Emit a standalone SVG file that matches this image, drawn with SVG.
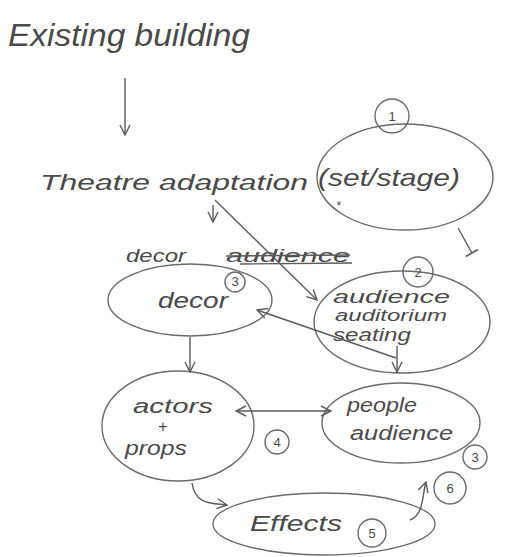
<svg xmlns="http://www.w3.org/2000/svg" width="532" height="557" viewBox="0 0 532 557">
<defs>
<style>
.n{fill:none;stroke:#6a6a6a;stroke-width:1.4}
.c{fill:none;stroke:#5a5a5a;stroke-width:1.4}
.t{font-family:"Liberation Sans","DejaVu Sans",sans-serif;fill:#4a4a4a;font-style:italic}
.num{font-family:"Liberation Sans","DejaVu Sans",sans-serif;fill:#4a4a4a;font-size:13px;text-anchor:middle}
</style>
<marker id="ah" viewBox="0 0 12 12" refX="11" refY="6" markerWidth="12" markerHeight="12" markerUnits="userSpaceOnUse" orient="auto-start-reverse">
<path d="M1,1 L11,6 L1,11" fill="none" stroke="#5a5a5a" stroke-width="1.4"/>
</marker>
<marker id="bar" viewBox="0 0 12 12" refX="6" refY="6" markerWidth="14" markerHeight="14" markerUnits="userSpaceOnUse" orient="auto">
<path d="M6,0 L6,12" fill="none" stroke="#5a5a5a" stroke-width="1.4"/>
</marker>
</defs>
<rect width="532" height="557" fill="#ffffff"/>

<g id="existing-building">
<text class="t" x="8" y="46" font-size="31" textLength="242" lengthAdjust="spacingAndGlyphs">Existing building</text>
</g>

<g id="theatre-adaptation">
<text class="t" x="40" y="190" font-size="22" textLength="268" lengthAdjust="spacingAndGlyphs">Theatre adaptation</text>
</g>

<g id="set-stage">
<ellipse class="n" cx="405" cy="177" rx="88" ry="53"/>
<text class="t" x="318" y="186" font-size="24" textLength="142" lengthAdjust="spacingAndGlyphs">(set/stage)</text>
<text class="t" x="336" y="210" font-size="12">*</text>
<circle class="n" cx="392" cy="116" r="17"/>
<text class="num" x="392" y="121">1</text>
</g>

<g id="header">
<text class="t" x="126" y="262" font-size="19" textLength="60" lengthAdjust="spacingAndGlyphs">decor</text>
<text class="t" x="226" y="262" font-size="19" textLength="124" lengthAdjust="spacingAndGlyphs">audience</text>
<path class="c" d="M226,256 L350,255 M240,264 L352,263"/>
</g>

<g id="decor">
<ellipse class="n" cx="190" cy="300" rx="82" ry="36"/>
<text class="t" x="158" y="308" font-size="22" textLength="70" lengthAdjust="spacingAndGlyphs">decor</text>
<circle class="n" cx="235" cy="282" r="10"/>
<text class="num" x="235" y="286" font-size="10">3</text>
</g>

<g id="audience">
<ellipse class="n" cx="402" cy="322" rx="88" ry="51"/>
<circle class="n" cx="418" cy="272" r="15"/>
<text class="num" x="418" y="277">2</text>
<text class="t" x="333" y="303" font-size="19" textLength="117" lengthAdjust="spacingAndGlyphs">audience</text>
<text class="t" x="335" y="321" font-size="16" textLength="112" lengthAdjust="spacingAndGlyphs">auditorium</text>
<text class="t" x="333" y="341" font-size="19" textLength="78" lengthAdjust="spacingAndGlyphs">seating</text>
</g>

<g id="actors-props">
<ellipse class="n" cx="178" cy="426" rx="76" ry="55"/>
<text class="t" x="133" y="413" font-size="20" textLength="80" lengthAdjust="spacingAndGlyphs">actors</text>
<text class="t" x="158" y="432" font-size="16">+</text>
<text class="t" x="125" y="455" font-size="20" textLength="62" lengthAdjust="spacingAndGlyphs">props</text>
<circle class="n" cx="277" cy="442" r="12"/>
<text class="num" x="277" y="447">4</text>
</g>

<g id="people-audience">
<ellipse class="n" cx="401" cy="423" rx="79" ry="40"/>
<text class="t" x="347" y="412" font-size="20" textLength="70" lengthAdjust="spacingAndGlyphs">people</text>
<text class="t" x="350" y="440" font-size="20" textLength="103" lengthAdjust="spacingAndGlyphs">audience</text>
<circle class="n" cx="475" cy="457" r="12"/>
<text class="num" x="475" y="462">3</text>
<circle class="n" cx="450" cy="488" r="16"/>
<text class="num" x="450" y="493">6</text>
</g>

<g id="effects">
<ellipse class="n" cx="324" cy="524" rx="111" ry="31"/>
<text class="t" x="250" y="531" font-size="22" textLength="92" lengthAdjust="spacingAndGlyphs">Effects</text>
<circle class="n" cx="372" cy="533" r="14"/>
<text class="num" x="372" y="538">5</text>
</g>

<g id="connectors">
<path class="c" d="M125,78 L125,135" marker-end="url(#ah)"/>
<path class="c" d="M213,205 L213,222" marker-end="url(#ah)"/>
<path class="c" d="M215,200 L317,300" marker-end="url(#ah)"/>
<path class="c" d="M458,228 L472,253" marker-end="url(#bar)"/>
<path class="c" d="M396,358 L257,310" marker-end="url(#ah)"/>
<path class="c" d="M397,346 L397,372" marker-end="url(#ah)"/>
<path class="c" d="M190,337 L190,372" marker-end="url(#ah)"/>
<path class="c" d="M236,411 L331,411" marker-start="url(#ah)" marker-end="url(#ah)"/>
<path class="c" d="M192,483 C195,505 212,503 227,505" marker-end="url(#ah)"/>
<path class="c" d="M410,520 C424,515 422,495 426,482" marker-end="url(#ah)"/>
</g>
</svg>
